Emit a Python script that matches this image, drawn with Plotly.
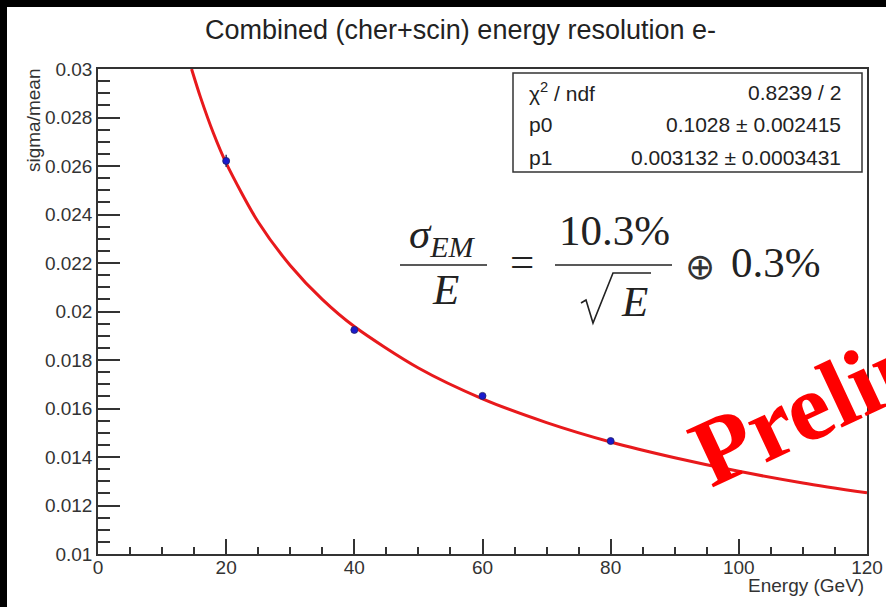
import plotly.graph_objects as go

# ---- data ----
energy = [20, 40, 60, 80]
resolution = [0.02621, 0.01924, 0.01652, 0.01466]
res_err = [0.00025, 0.00012, 0.00010, 0.00008]

fit_energy = [14.6, 16, 18, 20, 25, 30, 35, 40, 50, 60, 70, 80, 90, 100, 110, 120]
fit_res = [0.0300, 0.02883, 0.02736, 0.02612, 0.02369, 0.0219, 0.0205, 0.01938,
           0.01767, 0.0164, 0.01542, 0.01462, 0.01397, 0.01341, 0.01293, 0.01252]

x_ticks = [0, 20, 40, 60, 80, 100, 120]
y_ticks = [0.01, 0.012, 0.014, 0.016, 0.018, 0.02, 0.022, 0.024, 0.026, 0.028, 0.03]
y_tick_labels = ["0.01", "0.012", "0.014", "0.016", "0.018", "0.02", "0.022",
                 "0.024", "0.026", "0.028", "0.03"]

stats_rows = [("χ<sup>2</sup> / ndf", "0.8239 / 2"),
              ("p0", "0.1028 ± 0.002415"),
              ("p1", "0.003132 ± 0.0003431")]

# ---- layout geometry (pixels) ----
W, H = 886, 607
L, R, T, B = 98, 19, 69, 53
PW, PH = W - L - R, H - T - B


def px(x):
    return (x - L) / PW


def py(y):
    return (H - B - y) / PH


AX = "#333333"
INK = "#222222"
SANS = "Liberation Sans, Arial, sans-serif"
SERIF = "Liberation Serif, Times New Roman, serif"

fig = go.Figure()
fig.add_trace(go.Scatter(x=fit_energy, y=fit_res, mode="lines",
                         line=dict(color="#e8191c", width=3, shape="spline", smoothing=0.8),
                         hoverinfo="skip", showlegend=False))
fig.add_trace(go.Scatter(x=energy, y=resolution, mode="markers",
                         marker=dict(color="#1a1acc", size=7,
                                     line=dict(color="#222266", width=0.8)),
                         error_y=dict(type="data", array=res_err, color="#333366",
                                      thickness=1.5, width=0),
                         showlegend=False))


def pline(x0, y0, x1, y1, w=1.5):
    return dict(type="line", xref="paper", yref="paper", x0=px(x0), x1=px(x1),
                y0=py(y0), y1=py(y1), line=dict(color=INK, width=w))


radical_pts = [(581, 303), (586, 300), (593, 323), (613, 273), (651, 273)]
radical_path = "M " + " L ".join(f"{px(a):.5f},{py(b):.5f}" for a, b in radical_pts)

shapes = [
    # black border strips (top / left)
    dict(type="rect", xref="paper", yref="paper", x0=px(-20), x1=px(W + 20),
         y0=py(7), y1=py(-20), fillcolor="black", line=dict(width=0), layer="below"),
    dict(type="rect", xref="paper", yref="paper", x0=px(-20), x1=px(7),
         y0=py(H + 20), y1=py(-20), fillcolor="black", line=dict(width=0), layer="below"),
    # stats box
    dict(type="rect", xref="paper", yref="paper", x0=px(513), x1=px(862),
         y0=py(172), y1=py(73), fillcolor="white", line=dict(color=AX, width=1.5)),
    # formula fraction bars
    pline(400, 265, 487, 265),
    pline(555, 265, 672, 265),
    # square-root sign
    dict(type="path", xref="paper", yref="paper", path=radical_path,
         line=dict(color=INK, width=1.6)),
]


def note(text, x, y, size, family=SANS, color=INK, xa="center", ya="middle", angle=0):
    return dict(text=text, x=px(x), y=py(y), xanchor=xa, yanchor=ya, textangle=angle,
                xref="paper", yref="paper", showarrow=False,
                font=dict(family=family, size=size, color=color))


ann = []
ann.append(note("Combined (cher+scin) energy resolution e-", 460, 30, 27))
ann.append(note("Energy (GeV)", 866, 585, 19, color="#333", xa="right"))
ann.append(note("sigma/mean", 33, 66, 19, color="#333", ya="top", angle=-90))
row_y = [92, 124, 157]
for (lab, val), yy in zip(stats_rows, row_y):
    ann.append(note(lab, 527, yy, 21, xa="left"))
    ann.append(note(val, 843, yy, 21, xa="right"))
# formula
FS = 43
ann.append(note("<i>σ</i><sub><i>EM</i></sub>", 442, 237, FS, family=SERIF))
ann.append(note("<i>E</i>", 445, 289, FS, family=SERIF))
ann.append(note("=", 522, 261, FS, family=SERIF))
ann.append(note("10.3%", 614, 230, FS, family=SERIF))
ann.append(note("<i>E</i>", 634, 301, FS, family=SERIF))
ann.append(note("⊕", 700, 266, 36, family="DejaVu Sans", color="#333"))
ann.append(note("0.3%", 776, 262, FS, family=SERIF))
# watermark
ann.append(note("<b>Preliminary</b>", 921, 354, 96, family=SERIF, color="#ff0000", angle=-25))

fig.update_layout(
    width=W, height=H,
    margin=dict(l=L, r=R, t=T, b=B),
    paper_bgcolor="white", plot_bgcolor="white",
    shapes=shapes, annotations=ann, showlegend=False,
    xaxis=dict(range=[0, 120], tickvals=x_ticks, ticks="inside", ticklen=15,
               tickwidth=1.5, tickcolor=AX, showline=True, linecolor=AX, linewidth=1.5,
               mirror=True, showgrid=False, zeroline=False, automargin=False,
               ticklabelstandoff=-5,
               tickfont=dict(family=SANS, size=19, color="#333"),
               minor=dict(dtick=5, ticks="inside", ticklen=7, tickwidth=1.5,
                          tickcolor=AX, showgrid=False)),
    yaxis=dict(range=[0.01, 0.03], tickvals=y_ticks, ticktext=y_tick_labels,
               ticks="inside", ticklen=22, tickwidth=1.5, tickcolor=AX,
               showline=True, linecolor=AX, linewidth=1.5, mirror=True,
               showgrid=False, zeroline=False, automargin=False,
               tickfont=dict(family=SANS, size=19, color="#333"),
               minor=dict(dtick=0.0005, ticks="inside", ticklen=12, tickwidth=1.5,
                          tickcolor=AX, showgrid=False)),
)

fig.write_html("out.html")
